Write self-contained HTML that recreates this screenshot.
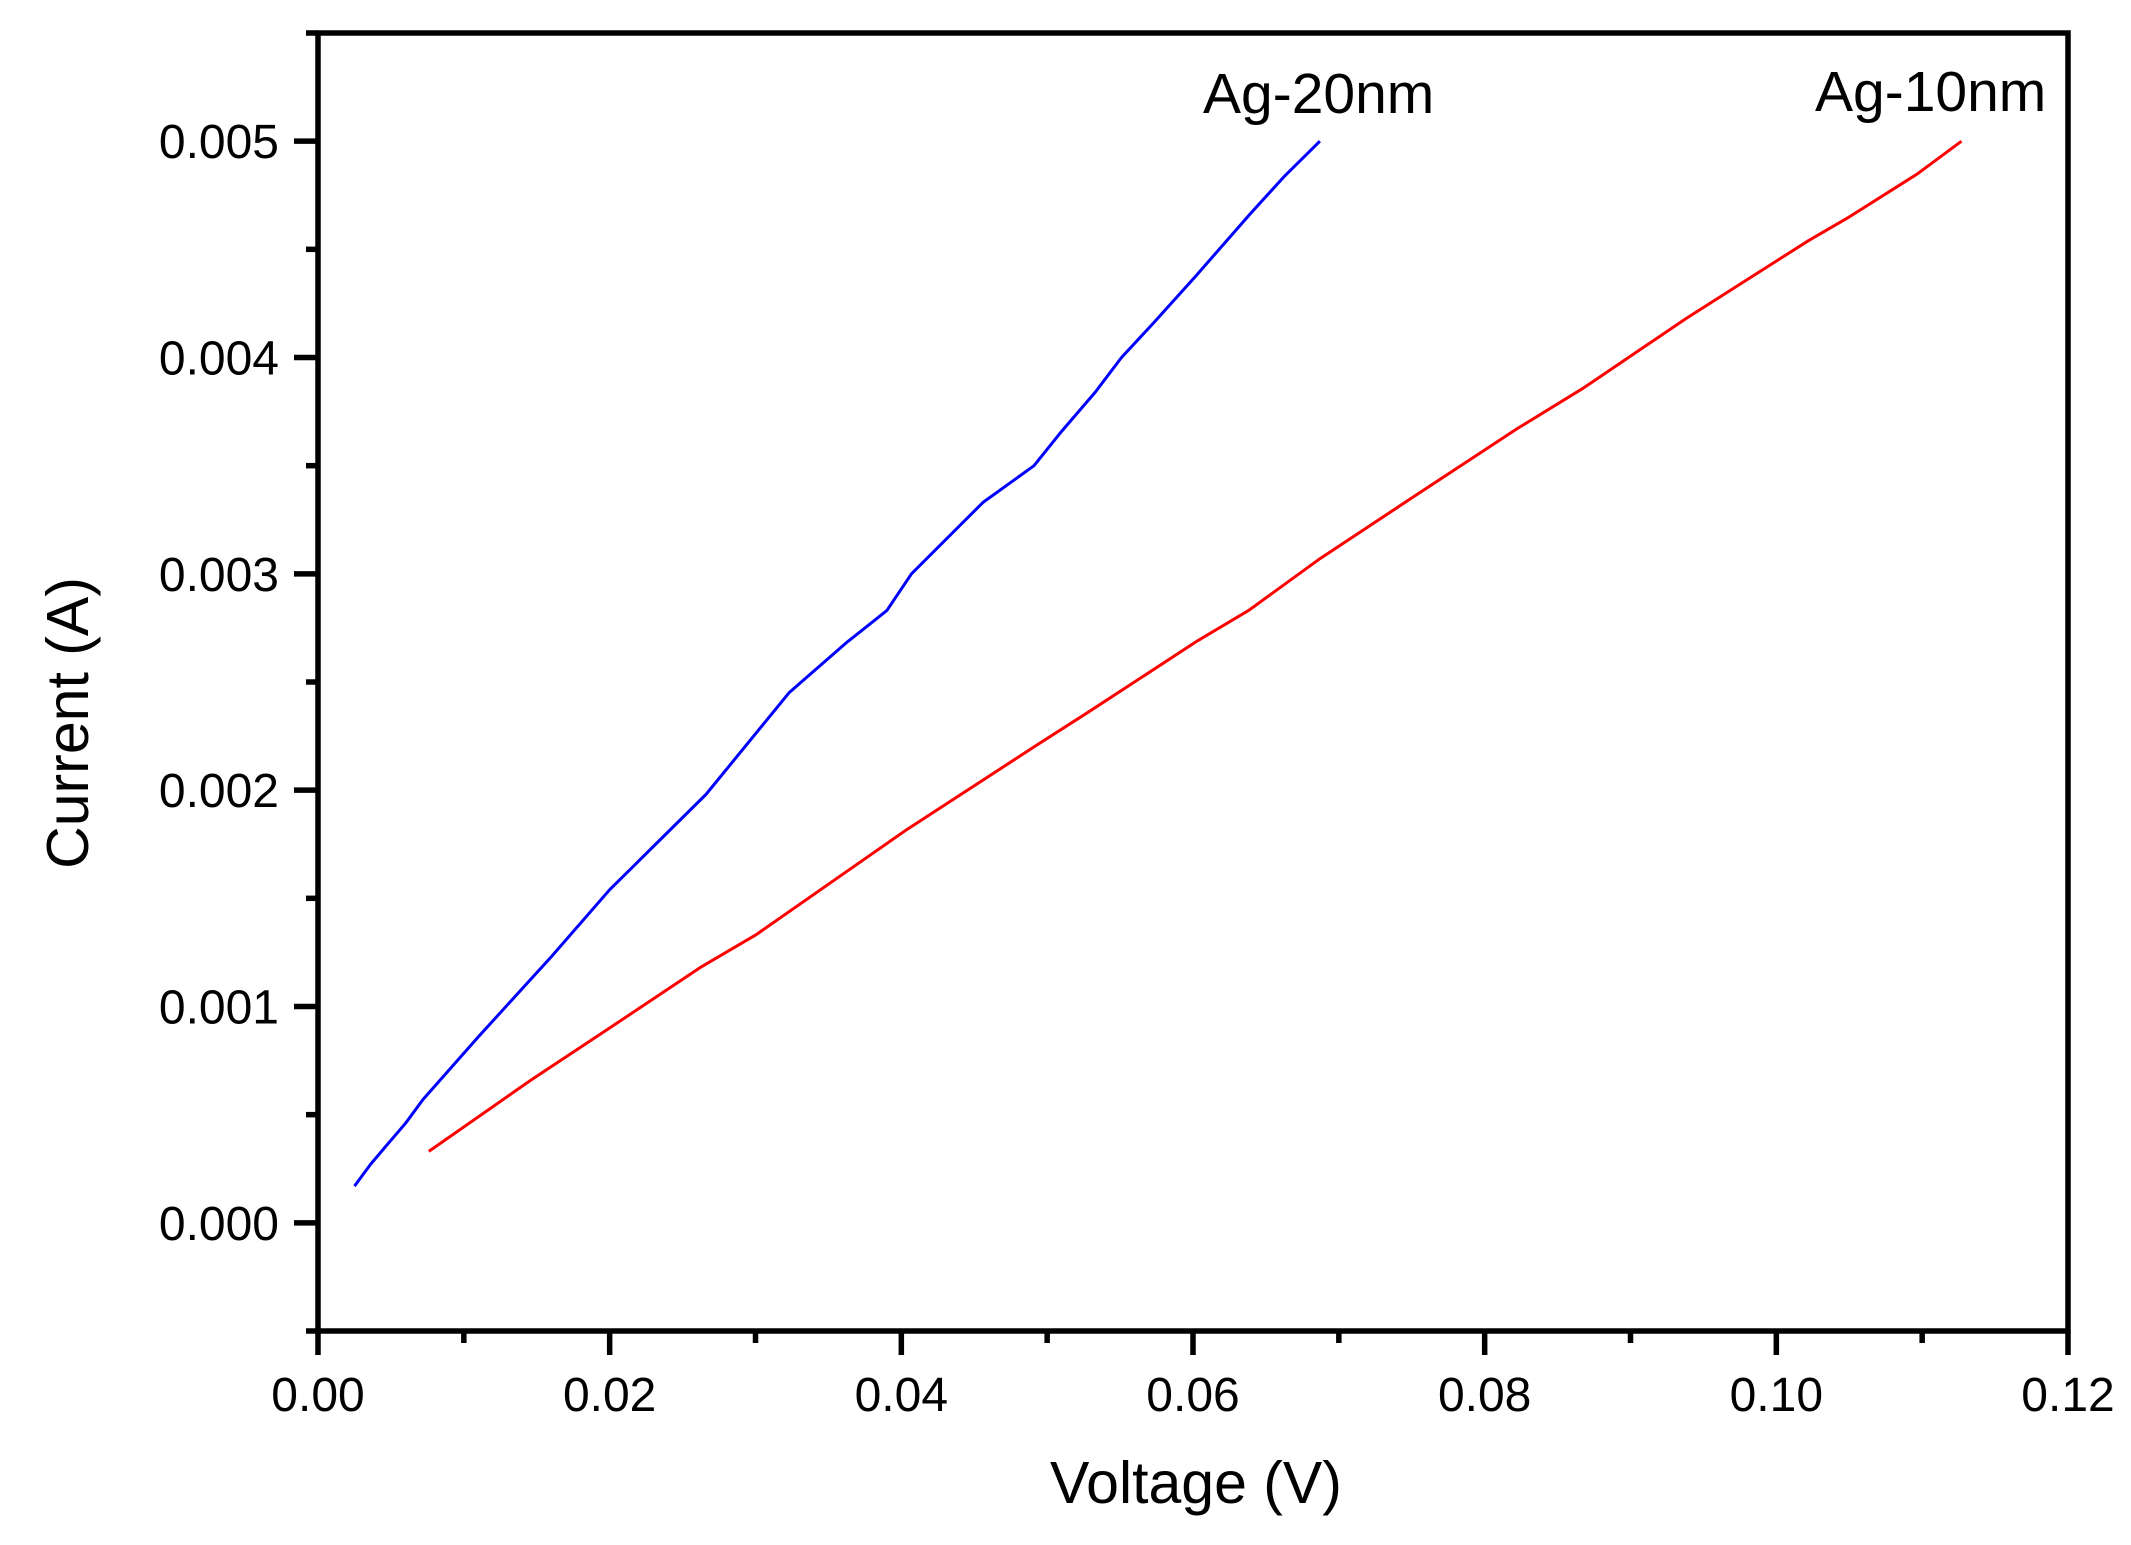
<!DOCTYPE html>
<html><head><meta charset="utf-8"><style>
html,body{margin:0;padding:0;background:#fff;}
svg{display:block;}
text{font-family:"Liberation Sans",Arial,sans-serif;fill:#000;}
</style></head><body>
<svg id="chart" width="2131" height="1545" viewBox="0 0 2131 1545">
<g id="marks"></g>
<g id="axes"></g>
<text x="1196" y="1503" font-size="59" text-anchor="middle">Voltage (V)</text>
<text transform="translate(88,723) rotate(-90)" font-size="59" text-anchor="middle">Current (A)</text>
<text x="1203" y="113" font-size="57">Ag-20nm</text>
<text x="1815" y="111" font-size="57">Ag-10nm</text>
</svg>
<script>
const xTicks = [0, 0.02, 0.04, 0.06, 0.08, 0.10, 0.12];
const xTickLabels = ["0.00","0.02","0.04","0.06","0.08","0.10","0.12"];
const yTicks = [0, 0.001, 0.002, 0.003, 0.004, 0.005];
const yTickLabels = ["0.000","0.001","0.002","0.003","0.004","0.005"];
const ag20V = [0.0025,0.0036,0.0046,0.0060,0.0072,0.0110,0.0160,0.0200,0.0266,0.0323,0.0362,0.0390,0.0407,0.0456,0.0491,0.0510,0.0533,0.0551,0.0573,0.0601,0.0640,0.0663,0.0687];
const ag20I = [0.00017,0.00027,0.00035,0.00046,0.00057,0.00086,0.00123,0.00154,0.00198,0.00245,0.00268,0.00283,0.00300,0.00333,0.00350,0.00366,0.00384,0.00400,0.00416,0.00437,0.00467,0.00484,0.00500];
const ag10V = [0.0076,0.0146,0.0202,0.0262,0.0300,0.0351,0.0402,0.0491,0.0528,0.0603,0.0638,0.0687,0.0752,0.0822,0.0868,0.0938,0.1022,0.1050,0.1097,0.1127];
const ag10I = [0.00033,0.00066,0.00091,0.00118,0.00133,0.00157,0.00181,0.00220,0.00236,0.00269,0.00283,0.00307,0.00336,0.00367,0.00386,0.00418,0.00454,0.00465,0.00485,0.00500];

const X0=318, X1=2068, Y0=1331, Y1=33;
const xMin=0, xMax=0.12, yMin=-0.0005, yMax=0.0055;
const sx = v => X0 + (v-xMin)/(xMax-xMin)*(X1-X0);
const sy = v => Y0 - (v-yMin)/(yMax-yMin)*(Y0-Y1);
const NS="http://www.w3.org/2000/svg";
const axes=document.getElementById('axes'), marks=document.getElementById('marks');
function mk(tag, attrs, parent){const e=document.createElementNS(NS,tag);for(const k in attrs)e.setAttribute(k,attrs[k]);parent.appendChild(e);return e;}

const frame=mk('rect',{x:X0,y:Y1,width:X1-X0,height:Y0-Y1,fill:'none',stroke:'#000','stroke-width':5.5},axes);



for(let i=0;i<=12;i++){
  const v=i*0.01, x=sx(v), major=(i%2===0);
  const t=mk('line',{x1:x,y1:Y0,x2:x,y2:Y0+(major?24:12),stroke:'#000','stroke-width':5.5},axes);
  
  
}
xTicks.forEach((v,i)=>{
  const t=mk('text',{x:sx(v),y:Y0+80,'font-size':48,'text-anchor':'middle'},axes);
  t.textContent=xTickLabels[i];
  
  
});
for(let i=-1;i<=11;i++){
  const v=i*0.0005, y=sy(v), major=(i%2===0);
  const t=mk('line',{x1:X0,y1:y,x2:X0-(major?24:12),y2:y,stroke:'#000','stroke-width':5.5},axes);
  
  
}
yTicks.forEach((v,i)=>{
  const t=mk('text',{x:279,y:sy(v)+17,'font-size':48,'text-anchor':'end'},axes);
  t.textContent=yTickLabels[i];
  
  
});

function series(V,I,color,name){
  const d=V.map((v,i)=>(i?'L':'M')+sx(v).toFixed(1)+' '+sy(I[i]).toFixed(1)).join(' ');
  const p=mk('path',{d:d,fill:'none',stroke:color,'stroke-width':3,'stroke-linejoin':'round'},marks);
  
  
}
series(ag20V,ag20I,'#0000ff','ag-20nm-line');
series(ag10V,ag10I,'#ff0000','ag-10nm-line');
</script>
</body></html>
